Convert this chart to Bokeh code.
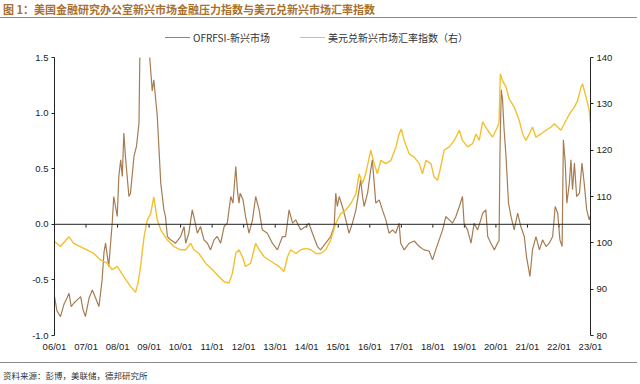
from bokeh.plotting import figure
from bokeh.models import (Range1d, LinearAxis, FixedTicker, Div, NumeralTickFormatter, Span)
from bokeh.layouts import column
from bokeh.embed import file_html
from bokeh.resources import INLINE

# ---------------- data ----------------
title_text = "图 1：美国金融研究办公室新兴市场金融压力指数与美元兑新兴市场汇率指数"
source_text = "资料来源：彭博，美联储，德邦研究所"
fsi_name = "OFRFSI-新兴市场"
fx_name = "美元兑新兴市场汇率指数（右）"

tick_years = [2006, 2007, 2008, 2009, 2010, 2011, 2012, 2013, 2014, 2015,
              2016, 2017, 2018, 2019, 2020, 2021, 2022, 2023]
tick_labels = ["06/01", "07/01", "08/01", "09/01", "10/01", "11/01", "12/01", "13/01",
               "14/01", "15/01", "16/01", "17/01", "18/01", "19/01", "20/01", "21/01",
               "22/01", "23/01"]

fsi_t = [2006.00, 2006.08, 2006.19, 2006.30, 2006.40, 2006.46, 2006.53, 2006.61, 2006.72,
         2006.83, 2006.90, 2006.98, 2007.10, 2007.20, 2007.30, 2007.41, 2007.51, 2007.57,
         2007.62, 2007.72, 2007.83, 2007.88, 2007.99, 2008.04, 2008.10, 2008.15, 2008.20,
         2008.25, 2008.36, 2008.41, 2008.52, 2008.60, 2008.68, 2008.71, 2008.78, 2008.86,
         2008.95, 2009.02, 2009.10, 2009.15, 2009.26, 2009.37, 2009.47, 2009.52, 2009.58,
         2009.68, 2009.84, 2010.00, 2010.11, 2010.16, 2010.26, 2010.37, 2010.42, 2010.53,
         2010.63, 2010.74, 2010.85, 2010.95, 2011.06, 2011.16, 2011.27, 2011.38, 2011.48,
         2011.59, 2011.66, 2011.75, 2011.80, 2011.85, 2011.89, 2011.98, 2012.06, 2012.17,
         2012.28, 2012.38, 2012.49, 2012.59, 2012.75, 2012.91, 2013.07, 2013.23, 2013.33,
         2013.44, 2013.55, 2013.65, 2013.81, 2013.97, 2014.07, 2014.18, 2014.34, 2014.44,
         2014.60, 2014.76, 2014.87, 2014.92, 2014.97, 2015.03, 2015.13, 2015.24, 2015.34,
         2015.45, 2015.56, 2015.66, 2015.71, 2015.77, 2015.82, 2015.93, 2016.03, 2016.08,
         2016.14, 2016.19, 2016.30, 2016.40, 2016.51, 2016.61, 2016.72, 2016.82, 2016.93,
         2016.98, 2017.09, 2017.25, 2017.41, 2017.57, 2017.72, 2017.88, 2017.99, 2018.09,
         2018.20, 2018.31, 2018.41, 2018.52, 2018.62, 2018.73, 2018.84, 2018.94, 2018.99,
         2019.10, 2019.21, 2019.31, 2019.42, 2019.52, 2019.58, 2019.68, 2019.74, 2019.84,
         2019.95, 2020.05, 2020.10, 2020.13, 2020.17, 2020.21, 2020.26, 2020.32, 2020.40,
         2020.48, 2020.58, 2020.69, 2020.79, 2020.90, 2020.97, 2021.08, 2021.16, 2021.27,
         2021.38, 2021.48, 2021.59, 2021.69, 2021.80, 2021.88, 2021.96, 2022.03, 2022.10,
         2022.14, 2022.20, 2022.25, 2022.33, 2022.38, 2022.43, 2022.49, 2022.56, 2022.65,
         2022.73, 2022.80, 2022.88, 2022.96, 2023.00]
fsi_v = [-0.65, -0.78, -0.83, -0.72, -0.66, -0.62, -0.74, -0.71, -0.68,
         -0.65, -0.76, -0.83, -0.66, -0.59, -0.66, -0.74, -0.50, -0.25,
         -0.17, -0.38, 0.01, 0.25, 0.07, 0.43, 0.58, 0.43, 0.82,
         0.61, 0.25, 0.28, 0.61, 0.70, 0.91, 1.60, 2.30, 2.60,
         2.00, 1.50, 1.20, 1.30, 0.97, 0.37, 0.13, 0.07, -0.11,
         -0.14, -0.17, -0.11, -0.02, -0.17, -0.08, 0.13, 0.07, -0.08,
         -0.02, -0.14, -0.17, -0.23, -0.14, -0.11, -0.17, -0.02, 0.01,
         0.25, 0.19, 0.52, 0.31, 0.19, 0.28, 0.22, 0.07, -0.08,
         0.04, 0.25, 0.13, -0.05, -0.08, -0.17, -0.23, -0.11, -0.11,
         0.13, 0.01, 0.04, -0.05, -0.02, 0.01, -0.08, -0.20, -0.23,
         -0.17, -0.11, -0.02, 0.28, 0.16, 0.25, 0.16, 0.04, -0.08,
         0.01, 0.13, 0.31, 0.40, 0.25, 0.16, 0.28, 0.49, 0.58,
         0.37, 0.19, 0.22, 0.13, 0.04, -0.08, -0.05, -0.08, 0.01,
         -0.17, -0.23, -0.17, -0.15, -0.20, -0.23, -0.24, -0.32, -0.23,
         -0.14, -0.05, 0.07, 0.04, 0.01, 0.07, 0.16, 0.25, 0.01,
         -0.05, -0.17, 0.01, -0.05, 0.04, 0.10, 0.13, -0.11, -0.17,
         -0.23, -0.17, -0.15, 0.67, 1.21, 1.12, 0.85, 0.61, 0.19,
         0.07, -0.05, 0.10, -0.02, -0.11, -0.29, -0.47, -0.23, -0.11,
         -0.23, -0.14, -0.20, -0.17, -0.11, 0.16, 0.10, -0.14, -0.20,
         0.76, 0.55, 0.19, 0.37, 0.58, 0.31, 0.55, 0.25, 0.28,
         0.55, 0.37, 0.13, 0.04, 0.08]

fx_t = [2006.00, 2006.19, 2006.35, 2006.46, 2006.61, 2006.93, 2007.25, 2007.46, 2007.67,
        2007.83, 2007.99, 2008.20, 2008.41, 2008.57, 2008.65, 2008.73, 2008.84, 2008.94,
        2009.05, 2009.15, 2009.26, 2009.37, 2009.58, 2009.79, 2010.00, 2010.16, 2010.32,
        2010.42, 2010.58, 2010.79, 2011.01, 2011.22, 2011.38, 2011.53, 2011.64, 2011.75,
        2011.85, 2011.96, 2012.06, 2012.22, 2012.38, 2012.49, 2012.65, 2012.80, 2012.96,
        2013.12, 2013.28, 2013.39, 2013.49, 2013.65, 2013.81, 2013.97, 2014.13, 2014.29,
        2014.44, 2014.60, 2014.76, 2014.92, 2015.08, 2015.24, 2015.40, 2015.56, 2015.66,
        2015.77, 2015.87, 2016.03, 2016.14, 2016.24, 2016.35, 2016.51, 2016.67, 2016.83,
        2016.93, 2017.00, 2017.09, 2017.25, 2017.41, 2017.57, 2017.67, 2017.78, 2017.94,
        2018.04, 2018.15, 2018.25, 2018.36, 2018.52, 2018.68, 2018.73, 2018.84, 2018.94,
        2019.10, 2019.26, 2019.37, 2019.47, 2019.58, 2019.74, 2019.89, 2020.05, 2020.10,
        2020.14, 2020.21, 2020.32, 2020.42, 2020.58, 2020.74, 2020.85, 2020.95, 2021.06,
        2021.16, 2021.27, 2021.43, 2021.59, 2021.75, 2021.85, 2021.96, 2022.06, 2022.17,
        2022.33, 2022.49, 2022.59, 2022.70, 2022.75, 2022.86, 2022.96, 2023.00]
fx_v = [100.3, 99.2, 100.5, 101.3, 99.9, 98.8, 97.7, 96.3, 95.6,
        94.2, 94.9, 92.7, 90.6, 89.3, 91.3, 94.9, 101.3, 104.9,
        106.3, 109.9, 104.9, 102.8, 100.6, 99.2, 98.5, 98.5, 99.9,
        98.5, 97.7, 95.6, 94.2, 92.7, 91.6, 91.3, 93.4, 97.7,
        98.5, 97.0, 94.9, 95.6, 99.9, 98.5, 97.0, 96.3, 95.6,
        94.9, 93.8, 97.0, 98.5, 97.7, 98.5, 98.8, 98.5, 97.7,
        97.7, 98.5, 100.6, 104.2, 106.3, 107.1, 108.5, 110.6, 114.9,
        112.8, 114.9, 120.0, 117.1, 114.9, 117.8, 117.1, 117.8, 120.7,
        123.5, 124.6, 122.1, 119.2, 118.5, 117.1, 114.9, 117.8, 117.1,
        114.2, 113.5, 116.4, 120.0, 120.7, 122.1, 122.8, 124.3, 122.1,
        120.7, 121.4, 123.5, 122.1, 126.1, 124.3, 122.8, 125.0, 126.0,
        136.5, 135.0, 133.6, 131.1, 129.3, 126.4, 123.5, 122.1, 123.5,
        125.0, 122.8, 123.5, 124.3, 125.0, 125.7, 125.0, 124.3, 125.7,
        127.8, 129.3, 130.7, 133.6, 134.3, 131.4, 128.6, 125.7]

# ---------------- styling ----------------
BROWN = "#A67C52"
YELLOW = "#F2C12E"
AXIS_FONT = "Liberation Sans"
CJK_FONT = "Noto Sans CJK SC"

p = figure(width=640, height=308, output_backend="svg", toolbar_location=None,
           x_range=Range1d(2006, 2023), y_range=Range1d(-1.0, 1.5),
           min_border_left=54, min_border_right=50, min_border_top=7, min_border_bottom=23,
           background_fill_color="white", border_fill_color="white")
p.outline_line_color = None
p.xgrid.visible = False
p.ygrid.visible = False
p.extra_y_ranges = {"fx": Range1d(80, 140)}

# zero line with year tick marks
p.add_layout(Span(location=0, dimension="width", line_color="#222222", line_width=1))
p.segment(x0=tick_years, y0=[0] * len(tick_years), x1=tick_years,
          y1=[-0.03] * len(tick_years), line_color="#222222", line_width=1)

r1 = p.line(fsi_t, fsi_v, line_color=BROWN, line_width=1.2)
r2 = p.line(fx_t, fx_v, line_color=YELLOW, line_width=1.4, y_range_name="fx")

# bottom axis: labels only
xa = p.xaxis[0]
xa.ticker = FixedTicker(ticks=tick_years)
xa.major_label_overrides = {y: l for y, l in zip(tick_years, tick_labels)}
xa.axis_line_color = None
xa.major_tick_line_color = None
xa.major_tick_out = 0
xa.major_tick_in = 0
xa.minor_tick_line_color = None
xa.major_label_standoff = 5
xa.major_label_text_font = AXIS_FONT
xa.major_label_text_font_size = "9.5px"
xa.major_label_text_color = "#222222"

ya = p.yaxis[0]
ya.ticker = FixedTicker(ticks=[-1.0, -0.5, 0.0, 0.5, 1.0, 1.5])
ya.formatter = NumeralTickFormatter(format="0.0")
ya.axis_line_color = "#222222"
ya.major_tick_line_color = "#222222"
ya.major_tick_out = 3
ya.major_tick_in = 0
ya.minor_tick_line_color = None
ya.major_label_standoff = 3
ya.major_label_text_font = AXIS_FONT
ya.major_label_text_font_size = "9.5px"
ya.major_label_text_color = "#222222"

ra = LinearAxis(y_range_name="fx", ticker=FixedTicker(ticks=[80, 90, 100, 110, 120, 130, 140]))
ra.axis_line_color = "#222222"
ra.major_tick_line_color = "#222222"
ra.major_tick_out = 3
ra.major_tick_in = 0
ra.minor_tick_line_color = None
ra.major_label_standoff = 3
ra.major_label_text_font = AXIS_FONT
ra.major_label_text_font_size = "9.5px"
ra.major_label_text_color = "#222222"
p.add_layout(ra, "right")

# title + legend (HTML above the plot)
head_html = (
    '<div style="position:relative; width:640px; height:50px; font-family:\'Noto Sans CJK SC\';">'
    '<div style="position:absolute; left:0; top:0; width:637px; height:18px; padding-left:3px; '
    'border-bottom:1px solid #8a8a8a; font-weight:bold; font-size:11px; line-height:19px; '
    'color:#A8702F; white-space:nowrap;">' + title_text + '</div>'
    '<div style="position:absolute; left:165px; top:37px; width:25px; height:0; '
    'border-top:1.2px solid ' + BROWN + ';"></div>'
    '<div style="position:absolute; left:193px; top:31px; font-size:10px; line-height:14px; '
    'color:#333333; white-space:nowrap;">' + fsi_name + '</div>'
    '<div style="position:absolute; left:300px; top:37px; width:25px; height:0; '
    'border-top:1.4px solid ' + YELLOW + ';"></div>'
    '<div style="position:absolute; left:328px; top:31px; font-size:10px; line-height:14px; '
    'color:#333333; white-space:nowrap;">' + fx_name + '</div>'
    '</div>')
head_div = Div(text=head_html, width=640, height=50, margin=0)

footer_div = Div(
    text=('<div style="width:637px; margin-top:4px; padding-left:3px; border-top:1px solid #8a8a8a; '
          'padding-top:7px; font-family:\'Noto Sans CJK SC\'; font-size:8.5px; '
          'line-height:10px; color:#333333; white-space:nowrap;">' + source_text + '</div>'),
    width=640, height=26, margin=0)

layout = column(head_div, p, footer_div, spacing=0, margin=0)

open("out.html", "w").write(file_html(layout, INLINE))
